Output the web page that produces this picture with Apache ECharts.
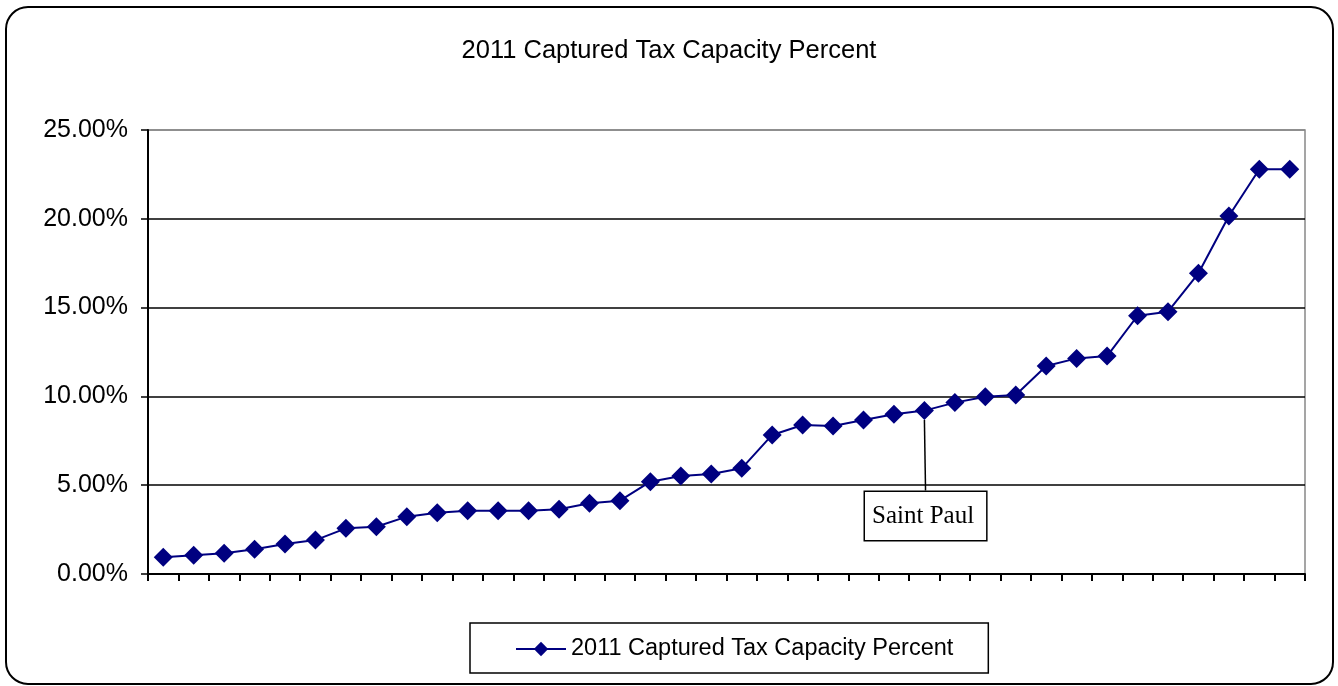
<!DOCTYPE html>
<html>
<head>
<meta charset="utf-8">
<script src="https://cdn.jsdelivr.net/npm/echarts@6/dist/echarts.min.js"></script>
<style>
html,body{margin:0;padding:0;background:#fff;}
#chart{width:1338px;height:686px;}
</style>
</head>
<body>
<div id="chart"></div>
<script>
// Data (percent values)
var categories = ['1','2','3','4','5','6','7','8','9','10','11','12','13','14','15','16','17','18','19','20','21','22','23','24','25','Saint Paul','27','28','29','30','31','32','33','34','35','36','37','38'];
var values = [0.94,1.05,1.17,1.39,1.69,1.91,2.57,2.66,3.23,3.45,3.56,3.56,3.56,3.64,3.98,4.13,5.20,5.52,5.63,5.95,7.83,8.39,8.33,8.67,8.99,9.20,9.65,9.98,10.08,11.71,12.14,12.27,14.54,14.77,16.93,20.16,22.79,22.79];
var seriesName = '2011 Captured Tax Capacity Percent';
var titleText = '2011 Captured Tax Capacity Percent';
var annotatedIndex = 25;
var annotationText = 'Saint Paul';

var seriesData = values.map(function (v, i) {
  if (i === annotatedIndex) {
    return {
      value: v,
      label: {
        show: true,
        position: 'bottom',
        formatter: annotationText,
        fontFamily: 'Liberation Serif',
        fontSize: 25,
        color: '#000',
        borderColor: '#000',
        borderWidth: 1.5,
        backgroundColor: '#fff',
        padding: [12, 12, 11, 7]
      },
      labelLine: { show: true, lineStyle: { color: '#000', width: 1.5 } }
    };
  }
  return v;
});

var chart = echarts.init(document.getElementById('chart'));
chart.setOption({
  backgroundColor: '#fff',
  animation: false,
  graphic: [{
    type: 'rect',
    shape: { x: 6, y: 7, width: 1327, height: 677, r: 22 },
    style: { fill: 'none', stroke: '#000', lineWidth: 2 },
    z: -1
  }],
  title: {
    text: titleText,
    left: 'center',
    top: 33,
    textStyle: { fontFamily: 'Liberation Sans', fontSize: 25.5, fontWeight: 'normal', color: '#000' }
  },
  legend: {
    left: 470,
    top: 623,
    width: 517,
    itemWidth: 50,
    itemHeight: 18,
    itemGap: 10,
    padding: [14, 35, 12, 45],
    borderColor: '#000',
    borderWidth: 1.5,
    textStyle: { fontFamily: 'Liberation Sans', fontSize: 23.5, color: '#000' },
    data: [seriesName]
  },
  grid: {
    left: 148, right: 33, top: 130, bottom: 112,
    show: true, borderColor: '#888', borderWidth: 1.5
  },
  xAxis: {
    type: 'category',
    data: categories,
    boundaryGap: true,
    axisLine: { show: true, lineStyle: { color: '#000', width: 2 } },
    axisTick: { show: true, interval: 0, length: 7, inside: false, lineStyle: { color: '#000', width: 2 } },
    axisLabel: { show: false, interval: 0 },
    splitLine: { show: false }
  },
  yAxis: {
    type: 'value',
    min: 0,
    max: 25,
    interval: 5,
    axisLine: { show: true, lineStyle: { color: '#000', width: 2 } },
    axisTick: { show: true, length: 7, lineStyle: { color: '#000', width: 1.5 } },
    axisLabel: {
      margin: 20,
      fontFamily: 'Liberation Sans',
      fontSize: 25,
      color: '#000',
      formatter: function (v) { return v.toFixed(2) + '%'; }
    },
    splitLine: { show: true, lineStyle: { color: ['#000','#000','#000','#000','#000','#888'], width: 1.5 } }
  },
  series: [{
    name: seriesName,
    type: 'line',
    data: seriesData,
    symbol: 'diamond',
    symbolSize: 19,
    itemStyle: { color: '#000080' },
    lineStyle: { color: '#000080', width: 2 },
    labelLayout: function (params) {
      if (params.dataIndex === annotatedIndex) {
        return { x: 865, y: 492, align: 'left', verticalAlign: 'top' };
      }
      return {};
    }
  }]
});
</script>
</body>
</html>
